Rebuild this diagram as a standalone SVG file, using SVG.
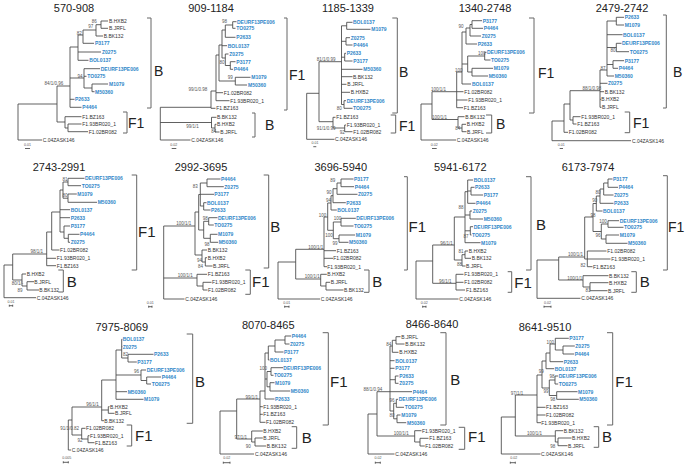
<svg xmlns="http://www.w3.org/2000/svg" width="685" height="468" viewBox="0 0 685 468">
<style>
.t{font-family:"Liberation Sans",Arial,sans-serif;font-size:11px;fill:#222;text-anchor:middle}
.l{font-family:"Liberation Sans",Arial,sans-serif;font-size:5px;fill:#333;dominant-baseline:central}
.b{fill:#2f86c8;font-weight:bold}
.s{font-family:"Liberation Sans",Arial,sans-serif;font-size:4.5px;fill:#555;text-anchor:middle;dominant-baseline:central}
.k{font-family:"Liberation Sans",Arial,sans-serif;font-size:14px;fill:#222}
.k2{font-family:"Liberation Sans",Arial,sans-serif;font-size:15px;fill:#222}
.sc{font-family:"Liberation Sans",Arial,sans-serif;font-size:3.6px;fill:#555;text-anchor:middle;dominant-baseline:central}
.br{fill:none;stroke:#444;stroke-width:0.85}
.bk{fill:none;stroke:#666;stroke-width:1}
</style>
<rect width="685" height="468" fill="#fff"/>

<!-- Panel 1 -->
<g id="p570-908">
<text class="t" x="74" y="11.7">570-908</text>
<g class="connectors"><path class="br" d="M18,104V140M18,104H57M18,140H42M57,86V122M57,86H70M70,47V107.3M70,47H78M78,35V60.3M78,35H83M83,30V43.3M83,30H96M96,24.7V36M96,24.7H101M101,21V28.3M101,21H108M101,28.3H108M96,36H103M83,43.3H94M78,52H101M78,60.3H88.5M70,78H84M84,68.7V88M84,68.7H100M84,76.3H86.5M84,88H92M92,84V91.7M92,84H108M92,91.7H94.5M70,99.3H74.5M70,107.3H81.5M57,122H65M65,116.7V128M65,116.7H81.5M65,128H68M68,124V131.7M68,124H81.5M68,131.7H88M25,148.5H30"/></g>
<text class="l" x="109" y="21">B.HXB2</text><text class="l" x="109" y="28.3">B.JRFL</text><text class="l" x="103.7" y="36">B.BK132</text>
<text class="l b" x="95" y="43.3">P3177</text><text class="l b" x="102" y="52">Z0275</text><text class="l b" x="89.3" y="60.3">BOL0137</text>
<text class="l b" x="100.7" y="68.7">DEURF13PE006</text><text class="l b" x="87.3" y="76.3">TO0275</text><text class="l b" x="109" y="84">M1079</text>
<text class="l b" x="95" y="91.7">M50360</text><text class="l b" x="75" y="99.3">P2633</text><text class="l b" x="82.3" y="107.3">P4464</text>
<text class="l" x="82.3" y="116.7">F1.BZ163</text><text class="l" x="82.3" y="124">F1.93BR020_1</text><text class="l" x="88.7" y="131.7">F1.02BR082</text>
<text class="l" x="42.7" y="140">C.04ZASK146</text>
<text class="s" x="94.3" y="21">86</text><text class="s" x="90.7" y="26.7">97</text><text class="s" x="79.3" y="33.3">82</text><text class="s" x="80" y="76.3">94</text><text class="s" x="54" y="83">84/1/0.96</text>
<text class="sc" x="27.5" y="145.3">0.01</text>
<path class="bk" d="M147,18H151V108H147M123,112H127V133H123"/>
<text class="k" x="154" y="76">B</text><text class="k" x="128" y="128">F1</text>
</g>

<!-- Panel 2 -->
<g id="p909-1184">
<text class="t" x="211" y="11.7">909-1184</text>
<g class="connectors"><path class="br" d="M160.3,107.3V140M160.3,107.3H211M160.3,122.5H211.5M160.3,140H190.5M211,91V108.3M211,108.3H215.5M211,91H216M216,55V100.7M216,92.7H223M216,100.7H229.5M216,55H219M219,45V81M219,81H235.3M235.3,77.3V85M235.3,77.3H250.5M235.3,85H247M219,45H222M222,30V58M222,30H225.3M225.3,25V37.3M225.3,25H232.7M232.7,21.7V28.3M232.7,21.7H236.5M232.7,28.3H235.5M225.3,37.3H235.5M222,45.7H227M222,58H225.3M225.3,54V65.5M225.3,54H228.5M225.3,65.5H230.3M230.3,61.7V69.3M230.3,61.7H235.5M230.3,69.3H233M211.5,117.3V128M211.5,117.3H216.5M211.5,128H215M215,124.3V132M215,124.3H216.5M215,132H219.5M171.7,148.5H176.3"/></g>
<text class="l b" x="237" y="21.7">DEURF13PE006</text><text class="l b" x="236.3" y="28.3">TO0275</text><text class="l b" x="236.3" y="37.3">P2633</text>
<text class="l b" x="227.7" y="45.7">BOL0137</text><text class="l b" x="229.3" y="54">Z0275</text><text class="l b" x="236.3" y="61.7">P3177</text>
<text class="l b" x="233.7" y="69.3">P4464</text><text class="l b" x="251.3" y="77.3">M1079</text><text class="l b" x="248" y="85">M50360</text>
<text class="l" x="223.7" y="92.7">F1.02BR082</text><text class="l" x="230.3" y="100.7">F1.93BR020_1</text><text class="l" x="216.3" y="108.3">F1.BZ163</text>
<text class="l" x="217" y="117.3">B.BK132</text><text class="l" x="217" y="124.3">B.HXB2</text><text class="l" x="220.3" y="132">B.JRFL</text>
<text class="l" x="191.3" y="140">C.04ZASK146</text>
<text class="s" x="224.5" y="21.7">98</text><text class="s" x="222" y="62.3">80</text><text class="s" x="230.3" y="77.3">99</text><text class="s" x="198" y="89.5">99/1/0.98</text><text class="s" x="192.5" y="126">99/1/1</text><text class="s" x="213.7" y="131">84</text>
<text class="sc" x="173.7" y="145.3">0.02</text>
<path class="bk" d="M252,113H255V137H252M284,18H287V110H284"/>
<text class="k" x="265" y="130">B</text><text class="k" x="289" y="80">F1</text>
</g>

<!-- Panel 3 -->
<g id="p1185-1339">
<text class="t" x="348" y="11.7">1185-1339</text>
<g class="connectors"><path class="br" d="M306.7,93.3V139.3M306.7,93.3H319M306.7,139.3H334.5M319,61.7V121.7M319,61.7H341.5M319,121.7H333M333,117.3V128M333,117.3H335.5M333,128H344.7M344.7,125V131.7M344.7,125H346M344.7,131.7H352.5M341.5,25.8V104.5M341.5,25.8H346.7M346.7,22.3V29.3M346.7,22.3H352.5M346.7,29.3H370.5M341.5,41.3H346M346,37.7V45M346,37.7H350M346,45H352.5M341.5,57.2H344.7M344.7,53.3V61M344.7,53.3H346M344.7,61H352.5M341.5,69.3H362.5M341.5,76.7H352.5M341.5,84.3H346.5M341.5,92.3H350M341.5,104.5H344M344,100.7V108.3M344,100.7H346M344,108.3H352.5M313.3,146.7H316.3"/></g>
<text class="l b" x="353" y="22.3">BOL0137</text><text class="l b" x="371.3" y="29.3">M1079</text><text class="l b" x="350.7" y="37.7">Z0275</text>
<text class="l b" x="353.3" y="45">P4464</text><text class="l b" x="346.7" y="53.3">P2633</text><text class="l b" x="353.3" y="61">P3177</text>
<text class="l b" x="363.3" y="69.3">M50360</text><text class="l" x="353" y="76.7">B.BK132</text><text class="l" x="347.3" y="84.3">B.JRFL</text>
<text class="l" x="350.7" y="92.3">B.HXB2</text><text class="l b" x="346.7" y="100.7">DEURF13PE006</text><text class="l b" x="353" y="108.3">TO0275</text>
<text class="l" x="336.3" y="117.3">F1.BZ163</text><text class="l" x="346.7" y="125">F1.93BR020_1</text><text class="l" x="353.3" y="131.7">F1.02BR082</text>
<text class="l" x="335" y="139.3">C.04ZASK146</text>
<text class="s" x="326.2" y="59.5">81/1/0.99</text><text class="s" x="339.3" y="108.3">80</text><text class="s" x="326.2" y="128.3">91/1/0.99</text><text class="s" x="342.3" y="132.3">92</text>
<text class="sc" x="315" y="143">0.01</text>
<path class="bk" d="M392.3,18H397.3V113H392.3M390.7,115H395.7V133H390.7"/>
<text class="k" x="399" y="77">B</text><text class="k" x="399" y="131">F1</text>
</g>

<!-- Panel 4 -->
<g id="p1340-2748">
<text class="t" x="485" y="11.7">1340-2748</text>
<g class="connectors"><path class="br" d="M421,104V140M421,104H432M421,140H456M432,91.7V119.5M432,91.7H456.7M432,119.5H458M456.7,72V107.7M456.7,91.7H463.5M456.7,100H467.5M456.7,107.7H463M456.7,72H462M462,32V84M462,84H471M462,32H466M466,28V44M466,28H470M470,24.5V36M470,24.5H472M472,20.7V28.3M472,20.7H482M472,28.3H483M470,36H481M466,44H477M462,64H467.7M467.7,56V72M467.7,56H484.7M484.7,52.3V60M484.7,52.3H486.5M484.7,60H490.5M467.7,72H472M472,68.3V76M472,68.3H493M472,76H488M458,116.7V128M458,116.7H464.5M458,128H462M462,124.3V131.7M462,124.3H466M462,131.7H466.5M432,148.5H436.7"/></g>
<text class="l b" x="482.7" y="20.7">P3177</text><text class="l b" x="483.7" y="28.3">P4464</text><text class="l b" x="481.7" y="36">Z0275</text>
<text class="l b" x="477.7" y="44">P2633</text><text class="l b" x="487" y="52.3">DEURF13PE006</text><text class="l b" x="491" y="60">TO0275</text>
<text class="l b" x="493.7" y="68.3">M1079</text><text class="l b" x="488.7" y="76">M50360</text><text class="l b" x="472" y="84">BOL0137</text>
<text class="l" x="464.3" y="91.7">F1.02BR082</text><text class="l" x="468.3" y="100">F1.93BR020_1</text><text class="l" x="463.7" y="107.7">F1.BZ163</text>
<text class="l" x="465.3" y="116.7">B.BK132</text><text class="l" x="466.7" y="124.3">B.HXB2</text><text class="l" x="467" y="131.7">B.JRFL</text>
<text class="l" x="456.7" y="140">C.04ZASK146</text>
<text class="s" x="461" y="26.7">90</text><text class="s" x="481.7" y="53.5">100</text><text class="s" x="458.7" y="70">100</text><text class="s" x="438.5" y="89.3">100/1/1</text><text class="s" x="439.5" y="117.3">100/1/1</text><text class="s" x="457.7" y="128.3">84</text>
<text class="sc" x="434.3" y="145.3">0.02</text>
<path class="bk" d="M529,18H534V113H529M486,115H491.7V133H486"/>
<text class="k" x="538" y="78">F1</text><text class="k" x="496" y="129">B</text>
</g>

<!-- Panel 5 -->
<g id="p2479-2742">
<text class="t" x="622" y="11.7">2479-2742</text>
<g class="connectors"><path class="br" d="M552,121V140.7M552,121H564M552,140.7H631M564,104V132.3M564,104H570M564,132.3H568M570,90.7V120M570,90.7H600M570,120H573M573,116.7V124M573,116.7H580.5M573,124H576.5M600,70V107.3M600,70H607M600,83.3H607.5M600,91.7H604M600,99.3H600.8M600,107.3H601.5M607,21V76M607,21H616.3M616.3,17.3V25M616.3,17.3H624M616.3,25H624M607,34.7H622.5M607,47.5H616.3M616.3,43.3V51.7M616.3,43.3H621.5M616.3,51.7H629M607,64.5H613M613,60.7V68.3M613,60.7H624M613,68.3H618M607,76H614M559.7,148.5H563"/></g>
<text class="l b" x="624.7" y="17.3">P2633</text><text class="l b" x="624.7" y="25">M1079</text><text class="l b" x="623" y="34.7">BOL0137</text>
<text class="l b" x="622" y="43.3">DEURF13PE006</text><text class="l b" x="629.7" y="51.7">TO0275</text><text class="l b" x="624.7" y="60.7">P3177</text>
<text class="l b" x="618.7" y="68.3">P4464</text><text class="l b" x="614.7" y="76">M50360</text><text class="l b" x="608" y="83.3">Z0275</text>
<text class="l" x="604.7" y="91.7">B.BK132</text><text class="l" x="601.3" y="99.3">B.HXB2</text><text class="l" x="602" y="107.3">B.JRFL</text>
<text class="l" x="581.3" y="116.7">F1.93BR020_1</text><text class="l" x="577.3" y="124">F1.BZ163</text><text class="l" x="568.7" y="132.3">F1.02BR082</text>
<text class="l" x="632" y="140.7">C.04ZASK146</text>
<text class="s" x="613" y="50.7">80</text><text class="s" x="603" y="68.3">87</text><text class="s" x="592" y="88.3">88/1/0.98</text>
<text class="sc" x="561.3" y="145.3">0.01</text>
<path class="bk" d="M663,15H666.3V108H663M624.7,112H629.7V132.7H624.7"/>
<text class="k" x="673" y="77">B</text><text class="k" x="633" y="128">F1</text>
</g>

<!-- Panel 6 -->
<g id="p2743-2991">
<text class="t" x="59" y="171">2743-2991</text>
<g class="connectors"><path class="br" d="M4,265V297.7M4,265H12.7M4,297.7H36M12.7,254V280M12.7,254H46.7M12.7,280H22M46.7,232V265.7M46.7,232H51.7M46.7,258.3H56M46.7,265.7H56M51.7,212V250M51.7,250H59.5M51.7,212H60M60,190V232M60,190H63M60,209.7H70M60,217.7H70M60,232H64M64,226V238.3M64,226H70M64,238.3H68.3M68.3,234.3V242.3M68.3,234.3H79.5M68.3,242.3H70M63,182V198.2M63,182H68M68,178.3V185.7M68,178.3H84.5M68,185.7H81M63,198.2H68M68,194V202.3M68,194H76.8M68,202.3H97M22,274V286M22,274H26M22,286H27M27,281.7V290M27,281.7H34M27,290H39M9.3,305.7H12.7M9.3,304.7V306.7M12.7,304.7V306.7"/></g>
<text class="l b" x="85" y="178.3">DEURF13PE006</text><text class="l b" x="81.7" y="185.7">TO0275</text><text class="l b" x="77.3" y="194">M1079</text>
<text class="l b" x="97.7" y="202.3">M50360</text><text class="l b" x="70.7" y="209.7">BOL0137</text><text class="l b" x="70.7" y="217.7">P2633</text>
<text class="l b" x="70.7" y="226">P3177</text><text class="l b" x="80" y="234.3">P4464</text><text class="l b" x="70.7" y="242.3">Z0275</text>
<text class="l" x="60" y="250">F1.02BR082</text><text class="l" x="56.7" y="258.3">F1.93BR020_1</text><text class="l" x="56.7" y="265.7">F1.BZ163</text>
<text class="l" x="26.7" y="274">B.HXB2</text><text class="l" x="34.3" y="281.7">B.JRFL</text><text class="l" x="39.3" y="290">B.BK132</text>
<text class="l" x="36.7" y="297.7">C.04ZASK146</text>
<text class="s" x="65" y="179">81</text><text class="s" x="65" y="195">80</text><text class="s" x="36.7" y="251.5">98/1/1</text><text class="s" x="17.5" y="283.3">80/1/-</text><text class="s" x="20" y="290">89</text>
<text class="sc" x="11" y="302">0.01</text>
<path class="bk" d="M131.7,175H136.7V270H131.7M58.3,270H63.3V292H58.3"/>
<text class="k2" x="138" y="237">F1</text><text class="k2" x="66.7" y="287">B</text>
</g>

<!-- Panel 7 -->
<g id="p2992-3695">
<text class="t" x="201" y="171">2992-3695</text>
<g class="connectors"><path class="br" d="M163.7,226V299M163.7,226H195M163.7,278H197M163.7,299H184.5M197,274.3V286M197,274.3H207M197,286H203M203,282.3V290M203,282.3H211.5M203,290H207.5M195,212V255M195,212H198.7M195,255H202M202,250V262M202,250H207M202,262H205.3M205.3,257.7V266M205.3,257.7H207M205.3,266H212.5M198.7,194.5V230M198.7,194.5H200.3M198.7,230H203.7M200.3,183V206M200.3,183H207M207,179V186.7M207,179H220.5M207,186.7H223.8M200.3,194.3H214M200.3,206H203.7M203.7,202.7V210M203.7,202.7H206.5M203.7,210H210.5M203.7,221.3V238.3M203.7,221.3H208.7M208.7,217.7V225M208.7,217.7H217.5M208.7,225H213.8M203.7,238.3H210.3M210.3,234.3V242.3M210.3,234.3H217.5M210.3,242.3H218.2M148.7,306.7H152M148.7,305.7V307.7M152,305.7V307.7"/></g>
<text class="l b" x="221" y="179">P4464</text><text class="l b" x="224.3" y="186.7">Z0275</text><text class="l b" x="214.3" y="194.3">P3177</text>
<text class="l b" x="207" y="202.7">BOL0137</text><text class="l b" x="211" y="210">P2633</text><text class="l b" x="218" y="217.7">DEURF13PE006</text>
<text class="l b" x="214.3" y="225">TO0275</text><text class="l b" x="218" y="234.3">M1079</text><text class="l b" x="218.7" y="242.3">M50360</text>
<text class="l" x="207.7" y="250">B.BK132</text><text class="l" x="207.7" y="257.7">B.HXB2</text><text class="l" x="213" y="266">B.JRFL</text>
<text class="l" x="207.7" y="274.3">F1.BZ163</text><text class="l" x="212" y="282.3">F1.93BR020_1</text><text class="l" x="208" y="290">F1.02BR082</text>
<text class="l" x="185.3" y="299">C.04ZASK146</text>
<text class="s" x="195.3" y="186.7">83</text><text class="s" x="205.3" y="218.3">98</text><text class="s" x="207" y="244">98</text><text class="s" x="183.7" y="223.5">100/1/1</text><text class="s" x="199.5" y="260.5">94</text><text class="s" x="200.5" y="266.5">84</text><text class="s" x="185.3" y="275.5">100/1/1</text>
<text class="sc" x="150.3" y="302.5">0.01</text>
<path class="bk" d="M263.7,175H268.7V268H263.7M245.3,270H250.3V294.3H245.3"/>
<text class="k2" x="270.3" y="232">B</text><text class="k2" x="252" y="287">F1</text>
</g>

<!-- Panel 8 -->
<g id="p3696-5940">
<text class="t" x="340.7" y="171">3696-5940</text>
<g class="connectors"><path class="br" d="M278,262V299M278,262H295.7M278,299H320M295.7,249.3V279M295.7,249.3H324M295.7,279H320.7M324,217V266.7M324,217H327.7M324,250.7H336M324,258.3H333M324,266.7H327M327.7,203V230.3M327.7,203H331M327.7,230.3H333.3M331,195.7V210M331,195.7H333M331,210H336.8M333,188.7V202.7M333,188.7H337M333,202.7H345.8M337,183V194.3M337,183H341M337,194.3H357.5M341,179V186.7M341,179H353.5M341,186.7H354M333.3,222V238.7M333.3,222H341M341,218.3V226M341,218.3H355.8M341,226H353.5M333.3,238.7H339M339,235V242.3M339,235H355M339,242.3H348.5M320.7,274.3V286M320.7,274.3H326.8M320.7,286H326M326,282.3V290M326,282.3H330.2M326,290H343.5M284.7,306.7H289M284.7,305.7V307.7M289,305.7V307.7"/></g>
<text class="l b" x="354" y="179">P3177</text><text class="l b" x="354.7" y="186.7">P4464</text><text class="l b" x="358" y="194.3">Z0275</text>
<text class="l b" x="346.3" y="202.7">P2633</text><text class="l b" x="337.3" y="210">BOL0137</text><text class="l b" x="356.3" y="218.3">DEURF13PE006</text>
<text class="l b" x="354" y="226">TO0275</text><text class="l b" x="355.7" y="235">M1079</text><text class="l b" x="349" y="242.3">M50360</text>
<text class="l" x="336.7" y="250.7">F1.BZ163</text><text class="l" x="333.3" y="258.3">F1.02BR082</text><text class="l" x="327.3" y="266.7">F1.93BR020_1</text>
<text class="l" x="327.3" y="274.3">B.HXB2</text><text class="l" x="330.7" y="282.3">B.JRFL</text><text class="l" x="344" y="290">B.BK132</text>
<text class="l" x="320.7" y="299">C.04ZASK146</text>
<text class="s" x="332.7" y="180">89</text><text class="s" x="329" y="192.7">90</text><text class="s" x="328.5" y="200.5">94</text><text class="s" x="322.5" y="215">100</text><text class="s" x="337.5" y="218.3">100</text><text class="s" x="329" y="235">100</text><text class="s" x="335" y="243.5">99</text><text class="s" x="315.7" y="247">100/1/1</text><text class="s" x="312.3" y="276.8">100/1/1</text>
<text class="sc" x="286.7" y="302.5">0.01</text>
<path class="bk" d="M404,176.7H407.3V270H404M364,270H369V292.3H364"/>
<text class="k2" x="408.5" y="232">F1</text><text class="k2" x="372.3" y="287">B</text>
</g>

<!-- Panel 9 -->
<g id="p5941-6172">
<text class="t" x="460.3" y="171">5941-6172</text>
<g class="connectors"><path class="br" d="M416,261V299M416,261H432.7M416,299H458.5M432.7,245V283.3M432.7,245H454.3M432.7,283.3H456M456,274.3V290M456,274.3H463.5M456,282.3H463.5M456,290H465M454.3,217V260M454.3,217H465M454.3,260H462M465,191.7V242.7M465,191.7H467.7M465,215H470M465,230.8H470.3M465,242.7H480.5M467.7,180V203.3M467.7,180H473M467.7,191H471M471,187.3V195M471,187.3H474.5M471,195H483M467.7,203.3H475.5M470,211V219M470,211H472M470,219H483M470.3,226.7V235M470.3,226.7H473M470.3,235H471.5M462,254.7V266M462,254.7H465M465,251V258.3M465,251H468M465,258.3H471M462,266H465.5M422.7,306.7H426M422.7,305.7V307.7M426,305.7V307.7"/></g>
<text class="l b" x="473.7" y="180">BOL0137</text><text class="l b" x="475" y="187.3">P2633</text><text class="l b" x="483.7" y="195">P3177</text>
<text class="l b" x="476" y="203.3">P4464</text><text class="l b" x="472.7" y="211">Z0275</text><text class="l b" x="483.7" y="219">M50360</text>
<text class="l b" x="473.7" y="226.7">DEURF13PE006</text><text class="l b" x="472" y="235">TO0275</text><text class="l b" x="481" y="242.7">M1079</text>
<text class="l" x="468.7" y="251">B.HXB2</text><text class="l" x="471.7" y="258.3">B.BK132</text><text class="l" x="466" y="266">B.JRFL</text>
<text class="l" x="464.3" y="274.3">F1.93BR020_1</text><text class="l" x="464.3" y="282.3">F1.02BR082</text><text class="l" x="466" y="290">F1.BZ163</text>
<text class="l" x="459.3" y="299">C.04ZASK146</text>
<text class="s" x="461" y="207.7">88</text><text class="s" x="466" y="236.5">87</text><text class="s" x="446.5" y="243">96/1/1</text><text class="s" x="461" y="251">81</text><text class="s" x="459.5" y="264">88</text><text class="s" x="445.2" y="281.2">96/1/1</text>
<text class="sc" x="424.3" y="302.5">0.02</text>
<path class="bk" d="M526,176.7H531V270H526M507.7,271.7H511.7V292.3H507.7"/>
<text class="k2" x="536" y="230">B</text><text class="k2" x="514.3" y="288">F1</text>
</g>

<!-- Panel 10 -->
<g id="p6173-7974">
<text class="t" x="588" y="171">6173-7974</text>
<g class="connectors"><path class="br" d="M537,260V298.3M537,260H558.7M537,298.3H580.5M558.7,257V280M558.7,257H584.7M558.7,280H583M584.7,217V259M584.7,217H593M584.7,259H587.3M587.3,251V266.7M587.3,251H606.5M587.3,259H610.5M587.3,266.7H592.5M593,203.5V231.5M593,203.5H596.3M593,231.5H601.3M596.3,196V211M596.3,196H600M596.3,211H602.5M600,189V203.3M600,189H603.7M600,203.3H613.5M603.7,183V195M603.7,183H608M603.7,195H613.5M608,179V187.3M608,179H612.5M608,187.3H618M601.3,224V239M601.3,224H608M608,220.7V227.3M608,220.7H619M608,227.3H623.5M601.3,239H606M606,235V243.3M606,235H619M606,243.3H627.5M583,275.7V287M583,275.7H608.5M583,287H590M590,282.7V290.7M590,282.7H608.5M590,290.7H607.5M544,306.7H551M544,305.7V307.7M551,305.7V307.7"/></g>
<text class="l b" x="613" y="179">P3177</text><text class="l b" x="618.7" y="187.3">P4464</text><text class="l b" x="614" y="195">Z0275</text>
<text class="l b" x="614" y="203.3">P2633</text><text class="l b" x="603" y="211">BOL0137</text><text class="l b" x="619.7" y="220.7">DEURF13PE006</text>
<text class="l b" x="624" y="227.3">TO0275</text><text class="l b" x="619.7" y="235">M1079</text><text class="l b" x="628" y="243.3">M50360</text>
<text class="l" x="607.3" y="251">F1.02BR082</text><text class="l" x="611.3" y="259">F1.93BR020_1</text><text class="l" x="593" y="266.7">F1.BZ163</text>
<text class="l" x="609" y="275.7">B.BK132</text><text class="l" x="609" y="282.7">B.HXB2</text><text class="l" x="608" y="290.7">B.JRFL</text>
<text class="l" x="581.3" y="298.3">C.04ZASK146</text>
<text class="s" x="598" y="192.7">80</text><text class="s" x="594.7" y="200">90</text><text class="s" x="593" y="215">98</text><text class="s" x="603" y="221.5">100</text><text class="s" x="598" y="235">96</text><text class="s" x="575.5" y="254.8">100/1/1</text><text class="s" x="583" y="265">82</text><text class="s" x="574.7" y="278">100/1/1</text><text class="s" x="588" y="290">81</text>
<text class="sc" x="547.5" y="302.5">0.02</text>
<path class="bk" d="M663,175.7H667.3V270H663M631.3,271.7H636.3V292.3H631.3"/>
<text class="k" x="668" y="232">F1</text><text class="k2" x="639.7" y="287">B</text>
</g>

<!-- Panel 11 -->
<g id="p7975-8069">
<text class="t" x="121.7" y="330.5">7975-8069</text>
<g class="connectors"><path class="br" d="M68.3,420V450M68.3,420H72M68.3,450H71M72,407V435M72,407H101.7M72,435H81.7M81.7,428.3V439M81.7,428.3H85.5M81.7,439H88M88,435.7V442.7M88,435.7H89.5M88,442.7H94.5M101.7,380V420.7M101.7,380H116M101.7,410H108.3M108.3,406.7V413.3M108.3,406.7H109.5M108.3,413.3H114.5M101.7,420.7H104M116,350V399.3M116,350H121.7M116,375H141M116,391.7H127M116,399.3H143.5M121.7,339.3V358M121.7,339.3H122.3M121.7,346.7H122.3M121.7,358H128M128,354.3V362M128,354.3H153.5M128,362H136.8M141,370V380.5M141,370H146M141,380.5H146.7M146.7,377V384M146.7,377H161M146.7,384H151M63.3,462.3H68.3M63.3,461.3V463.3M68.3,461.3V463.3"/></g>
<text class="l b" x="122.7" y="339.3">BOL0137</text><text class="l b" x="122.7" y="346.7">Z0275</text><text class="l b" x="154" y="354.3">P2633</text>
<text class="l b" x="137.3" y="362">P3177</text><text class="l b" x="146.7" y="370">DEURF13PE006</text><text class="l b" x="161.7" y="377">P4464</text>
<text class="l b" x="151.7" y="384">TO0275</text><text class="l b" x="127.7" y="391.7">M50360</text><text class="l b" x="144" y="399.3">M1079</text>
<text class="l" x="110" y="406.7">B.HXB2</text><text class="l" x="115" y="413.3">B.JRFL</text><text class="l" x="104.3" y="420.7">B.BK132</text>
<text class="l" x="86" y="428.3">F1.02BR082</text><text class="l" x="90" y="435.7">F1.93BR020_1</text><text class="l" x="95" y="442.7">F1.BZ163</text>
<text class="l" x="71.7" y="450">C.04ZASK146</text>
<text class="s" x="125.5" y="354.3">82</text><text class="s" x="136.5" y="371">96</text><text class="s" x="92.5" y="404.5">96/1/1</text><text class="s" x="69.7" y="428.3">91/1/0.82</text><text class="s" x="80" y="440.7">92</text>
<text class="sc" x="66.7" y="458">0.005</text>
<path class="bk" d="M186.7,334H192.7V423.3H186.7M126.7,425H131.7V446H126.7"/>
<text class="k2" x="195" y="387">B</text><text class="k2" x="135" y="441">F1</text>
</g>

<!-- Panel 12 -->
<g id="p8070-8465">
<text class="t" x="268.3" y="328.5">8070-8465</text>
<g class="connectors"><path class="br" d="M220,411V454M220,411H236.7M220,454H254M236.7,399V439M236.7,399H260M236.7,439H251.7M260,391V422.3M260,391H265M260,406.7H262.8M260,414.3H262.8M260,422.3H265.5M265,353V399M265,353H268.3M265,379H267M265,399H274.5M268.3,346V360M268.3,360H269.5M268.3,346H275M275,340V352M275,352H283.5M275,340H285M285,336V344M285,336H291.2M285,344H289.5M267,371.5V386.8M267,371.5H271M271,367.7V375.3M271,367.7H283M271,375.3H273.5M267,386.8H270M270,382.7V391M270,382.7H274.5M270,391H290.2M251.7,431V442M251.7,431H262.8M251.7,442H255M255,438V446M255,438H262.8M255,446H266.2M223.3,462.7H230M223.3,461.7V463.7M230,461.7V463.7"/></g>
<text class="l b" x="291.7" y="336">P4464</text><text class="l b" x="290" y="344">Z0275</text><text class="l b" x="284" y="352">P3177</text>
<text class="l b" x="270" y="360">BOL0137</text><text class="l b" x="283.3" y="367.7">DEURF13PE006</text><text class="l b" x="274" y="375.3">TO0275</text>
<text class="l b" x="275" y="382.7">M1079</text><text class="l b" x="290.7" y="391">M50360</text><text class="l b" x="275" y="399">P2633</text>
<text class="l" x="263.3" y="406.7">F1.93BR020_1</text><text class="l" x="263.3" y="414.3">F1.BZ163</text><text class="l" x="266" y="422.3">F1.02BR082</text>
<text class="l" x="263.3" y="431">B.HXB2</text><text class="l" x="263.3" y="438">B.JRFL</text><text class="l" x="266.7" y="446">B.BK132</text>
<text class="l" x="255" y="454">C.04ZASK146</text>
<text class="s" x="263.3" y="368.3">100</text><text class="s" x="251.7" y="397">99/1/1</text><text class="s" x="240.8" y="437">97/1/1</text><text class="s" x="248.3" y="446">90</text>
<text class="sc" x="226.7" y="458">0.02</text>
<path class="bk" d="M322.7,332.7H328.3V425H322.7M291.7,426.7H296.7V448.3H291.7"/>
<text class="k2" x="330" y="387">F1</text><text class="k2" x="301.7" y="443">B</text>
</g>

<!-- Panel 13 -->
<g id="p8466-8640">
<text class="t" x="432" y="328">8466-8640</text>
<g class="connectors"><path class="br" d="M368,414V454M368,414H377M368,454H394.5M377,391.7V436M377,391.7H390M377,436H414.7M414.7,430.7V442M414.7,430.7H421.5M414.7,442H420M420,438.3V446M420,438.3H428.5M420,446H424.8M390,346V411M390,346H392.3M390,360.7H394.5M390,368.3H394.5M390,379.7H395.3M390,391.7H412M390,411H393.7M392.3,340.3V352.3M392.3,340.3H396M392.3,352.3H398.5M396,336.7V344M396,336.7H400.5M396,344H404.5M395.3,376V383.3M395.3,376H398.5M395.3,383.3H398.5M393.7,403.3V418.8M393.7,403.3H396.3M396.3,399.3V407.3M396.3,399.3H398M396.3,407.3H404M393.7,418.8H397M397,415V422.7M397,415H400.5M397,422.7H406.2M375.3,462.7H380.3M375.3,461.7V463.7M380.3,461.7V463.7"/></g>
<text class="l" x="401.3" y="336.7">B.JRFL</text><text class="l" x="405.3" y="344">B.BK132</text><text class="l" x="399.3" y="352.3">B.HXB2</text>
<text class="l b" x="395.3" y="360.7">BOL0137</text><text class="l b" x="395.3" y="368.3">P3177</text><text class="l b" x="399.3" y="376">P2633</text>
<text class="l b" x="399.3" y="383.3">Z0275</text><text class="l b" x="412.7" y="391.7">P4464</text><text class="l b" x="398.7" y="399.3">DEURF13PE006</text>
<text class="l b" x="404.7" y="407.3">TO0275</text><text class="l b" x="401.3" y="415">M1079</text><text class="l b" x="407" y="422.7">M50360</text>
<text class="l" x="422" y="430.7">F1.93BR020_1</text><text class="l" x="429.3" y="438.3">F1.BZ163</text><text class="l" x="425.3" y="446">F1.02BR082</text>
<text class="l" x="395.3" y="454">C.04ZASK146</text>
<text class="s" x="388.7" y="344.3">84</text><text class="s" x="392" y="400">96</text><text class="s" x="392" y="415.3">80</text><text class="s" x="372.8" y="389.3">88/1/0.94</text><text class="s" x="401.2" y="433.5">100/1/1</text>
<text class="sc" x="378" y="458">0.02</text>
<path class="bk" d="M440.3,332.7H446V425H440.3M458.7,427.3H464.7V449.3H458.7"/>
<text class="k2" x="450.3" y="385">B</text><text class="k2" x="468" y="442">F1</text>
</g>

<!-- Panel 14 -->
<g id="p8641-9510">
<text class="t" x="545" y="330.5">8641-9510</text>
<g class="connectors"><path class="br" d="M501.3,417V454M501.3,417H515.3M501.3,454H540.5M515.3,395V436M515.3,395H537M515.3,436H555.3M537,375V422.7M537,375H542M537,407.3H545.5M537,415H545.5M537,422.7H541M542,361V388M542,361H546M542,388H549.3M546,353V368.7M546,353H550M546,368.7H554.2M550,344V361.7M550,344H555.3M550,361.7H563.2M555.3,338.3V350M555.3,338.3H568.8M555.3,350H563M563,346V354M563,346H574.8M563,354H574.2M549.3,380V395.5M549.3,380H555M555,376V384M555,376H558.2M555,384H558.2M549.3,395.5H556.7M556.7,391.7V399.3M556.7,391.7H577.5M556.7,399.3H578.8M555.3,430.7V442M555.3,430.7H563.2M555.3,442H558M558,438V445.7M558,438H571.5M558,445.7H567.5M510.3,462.7H515.3M510.3,461.7V463.7M515.3,461.7V463.7"/></g>
<text class="l b" x="569.3" y="338.3">P3177</text><text class="l b" x="575.3" y="346">Z0275</text><text class="l b" x="574.7" y="354">P4464</text>
<text class="l b" x="563.7" y="361.7">P2633</text><text class="l b" x="554.7" y="368.7">BOL0137</text><text class="l b" x="558.7" y="376">DEURF13PE006</text>
<text class="l b" x="558.7" y="384">TO0275</text><text class="l b" x="578" y="391.7">M1079</text><text class="l b" x="579.3" y="399.3">M50360</text>
<text class="l" x="546" y="407.3">F1.BZ163</text><text class="l" x="546" y="415">F1.02BR082</text><text class="l" x="541.3" y="422.7">F1.93BR020_1</text>
<text class="l" x="563.7" y="430.7">B.BK132</text><text class="l" x="572" y="438">B.HXB2</text><text class="l" x="568" y="445.7">B.JRFL</text>
<text class="l" x="541" y="454">C.04ZASK146</text>
<text class="s" x="550.3" y="342.5">100</text><text class="s" x="541.3" y="371">99</text><text class="s" x="552" y="376.7">98</text><text class="s" x="546" y="391.7">99</text><text class="s" x="552.7" y="399.3">98</text><text class="s" x="517" y="393">97/1/1</text><text class="s" x="534.5" y="433.5">100/1/1</text><text class="s" x="552.7" y="446">98</text>
<text class="sc" x="513.7" y="458">0.02</text>
<path class="bk" d="M607,332.7H612.7V425H607M593.7,426.7H598.7V447.3H593.7"/>
<text class="k2" x="615.3" y="387">F1</text><text class="k2" x="602" y="442">B</text>
</g>
</svg>
